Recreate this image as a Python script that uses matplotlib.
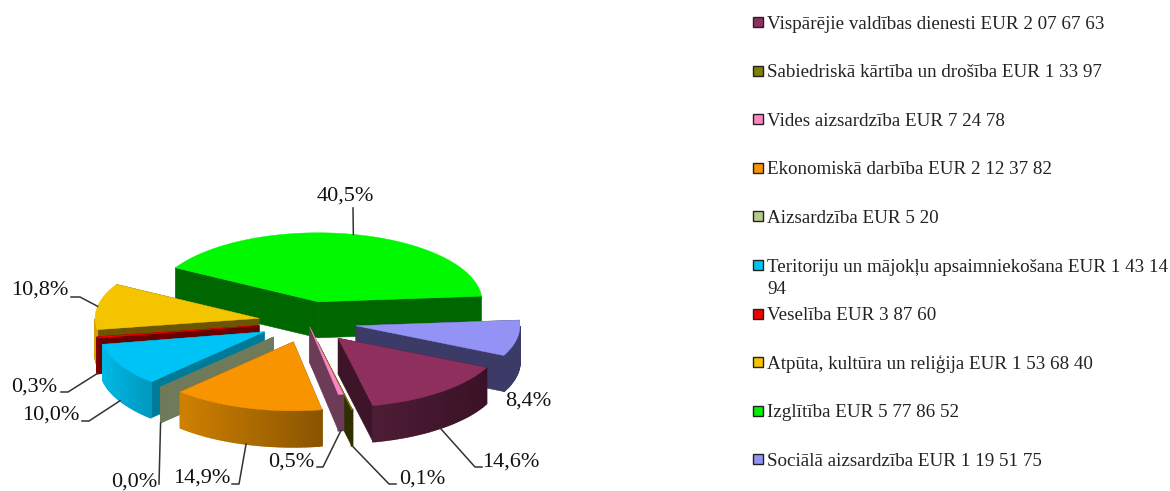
import numpy as np
import matplotlib
matplotlib.use("Agg")
import matplotlib.pyplot as plt
from matplotlib.patches import Polygon, Rectangle
from matplotlib.colors import to_rgb

# data
categories = ["Vispārējie valdības dienesti", "Sabiedriskā kārtība un drošība", "Vides aizsardzība",
              "Ekonomiskā darbība", "Aizsardzība", "Teritoriju un mājokļu apsaimniekošana",
              "Veselība", "Atpūta, kultūra un reliģija", "Izglītība", "Sociālā aizsardzība"]
amounts = ["2 07 67 63", "1 33 97", "7 24 78", "2 12 37 82", "5 20", "1 43 14\n94",
           "3 87 60", "1 53 68 40", "5 77 86 52", "1 19 51 75"]
shares = [14.6, 0.1, 0.5, 14.9, 0.0, 10.0, 0.3, 10.8, 40.5, 8.4]

# styles, same order as categories
legend_colors = ["#8E2F5E", "#7F7F00", "#FF85C2", "#F79400", "#B5CB8A", "#00C3F5", "#F00000", "#F5C400", "#00F000", "#9393F5"]
top_colors = ["#8E2F5E", "#7F7F00", "#FF85C2", "#F79400", "#6E7A5A", "#00C3F5", "#F00000", "#F5C400", "#00F800", "#9393F5"]
face_colors = ["#3E1429", "#2F2F00", "#6B3B58", "#8A5500", "#6E7A5A", "#007A99", "#6B0000", "#6B5500", "#006600", "#3C3A66"]
wall_left = ["#4E1C36", "#2F2F00", "#6B3B58", "#D08000", "#6E7A5A", "#00B8E4", "#8A0000", "#D8A000", "#006600", "#3C3A66"]
wall_right = ["#3A1226", "#2F2F00", "#6B3B58", "#8A5500", "#6E7A5A", "#0098BE", "#6B0000", "#D8A000", "#006600", "#3C3A66"]
explode = [0.3, 0.3, 0.07, 0.3, 0.3, 0.3, 0.3, 0.3, 0.3, 0.3]

# pie layout, in pixels
cx, cy = 307.5, 322
rx, ry = 164, 69
depth = 36
start_angle = -25.2
draw_order = [8, 7, 9, 6, 5, 4, 3, 1, 2, 0]

# label text centre, then leader knee points (None for no leader)
label_pos = [(511, 462), (422, 479), (291, 462), (202, 478), (134, 482),
             (51, 415), (34, 387), (40, 290), (345, 196), (528, 401)]
leader_knees = [[(475, 467), (482, 467)], [(389, 484), (396, 484)], [(323, 467), (317, 467)],
                [(239, 484), (232, 484)], [(159, 484)], [(89, 421), (82, 421)],
                [(68, 392), (61, 392)], [(80, 297), (71, 297)], [(353, 208)], None]

legend_y0 = 22
legend_step = 48.6


def ell(theta, ox, oy):
    t = np.radians(theta)
    return ox + rx * np.cos(t), oy - ry * np.sin(t)


plt.rcParams["font.family"] = ["Liberation Serif", "DejaVu Serif"]
fig = plt.figure(figsize=(11.7, 4.91), dpi=100)
ax = fig.add_axes([0, 0, 1, 1])
ax.set_xlim(0, 1170)
ax.set_ylim(491, 0)
ax.axis("off")

# angles run clockwise from the start angle
ends = start_angle - np.cumsum(shares) * 3.6
starts = np.concatenate([[start_angle], ends[:-1]])
mids = (starts + ends) / 2

for i in draw_order:
    mid = np.radians(mids[i])
    ox = cx + explode[i] * rx * np.cos(mid)
    oy = cy - explode[i] * ry * np.sin(mid)
    thetas = np.linspace(starts[i], ends[i], max(2, int(abs(starts[i] - ends[i])) + 2))
    xs, ys = ell(thetas, ox, oy)

    # radial faces
    for x_end, y_end in [(xs[0], ys[0]), (xs[-1], ys[-1])]:
        ax.add_patch(Polygon([(ox, oy), (x_end, y_end), (x_end, y_end + depth), (ox, oy + depth)],
                             closed=True, fc=face_colors[i], ec=face_colors[i], lw=0.4, zorder=2))

    # outer wall, shaded left to right
    c0, c1 = np.array(to_rgb(wall_left[i])), np.array(to_rgb(wall_right[i]))
    for k in range(len(thetas) - 1):
        if np.sin(np.radians((thetas[k] + thetas[k + 1]) / 2)) > 0:
            continue
        f = (xs[k] - xs.min()) / max(xs.max() - xs.min(), 1)
        col = c0 + (c1 - c0) * f
        ax.add_patch(Polygon([(xs[k], ys[k]), (xs[k + 1], ys[k + 1]),
                              (xs[k + 1], ys[k + 1] + depth), (xs[k], ys[k] + depth)],
                             closed=True, fc=col, ec=col, lw=1.2, zorder=2))

    # top
    ax.add_patch(Polygon(np.column_stack([np.r_[ox, xs], np.r_[oy, ys]]), closed=True,
                         fc=top_colors[i], ec=top_colors[i], lw=0.3, zorder=2))

# percent labels with leader lines
for i, share in enumerate(shares):
    txt = f"{share:.1f}%".replace(".", ",")
    ax.text(label_pos[i][0], label_pos[i][1], txt, fontsize=16, ha="center", va="center",
            color="#111111", zorder=4)
    if leader_knees[i] is None:
        continue
    mid = np.radians(mids[i])
    ox = cx + explode[i] * rx * np.cos(mid)
    oy = cy - explode[i] * ry * np.sin(mid)
    ex, ey = ell(mids[i], ox, oy)
    if mids[i] > -180 and np.sin(mid) < 0:
        ey = ey + depth
    pts = [(ex, ey)] + leader_knees[i]
    ax.plot([p[0] for p in pts], [p[1] for p in pts], color="#333333", lw=1.1, zorder=3)

# legend
for i, cat in enumerate(categories):
    y = legend_y0 + i * legend_step
    ax.add_patch(Rectangle((752.5, y - 5), 10, 10, fc=legend_colors[i], ec="#222222", lw=1.0, zorder=3))
    for j, line in enumerate(f"{cat} EUR {amounts[i]}".split("\n")):
        ax.text(767, y + j * 22, line, fontsize=13.7, ha="left", va="center_baseline", color="#222222")

fig.savefig("out.png", dpi=100)
